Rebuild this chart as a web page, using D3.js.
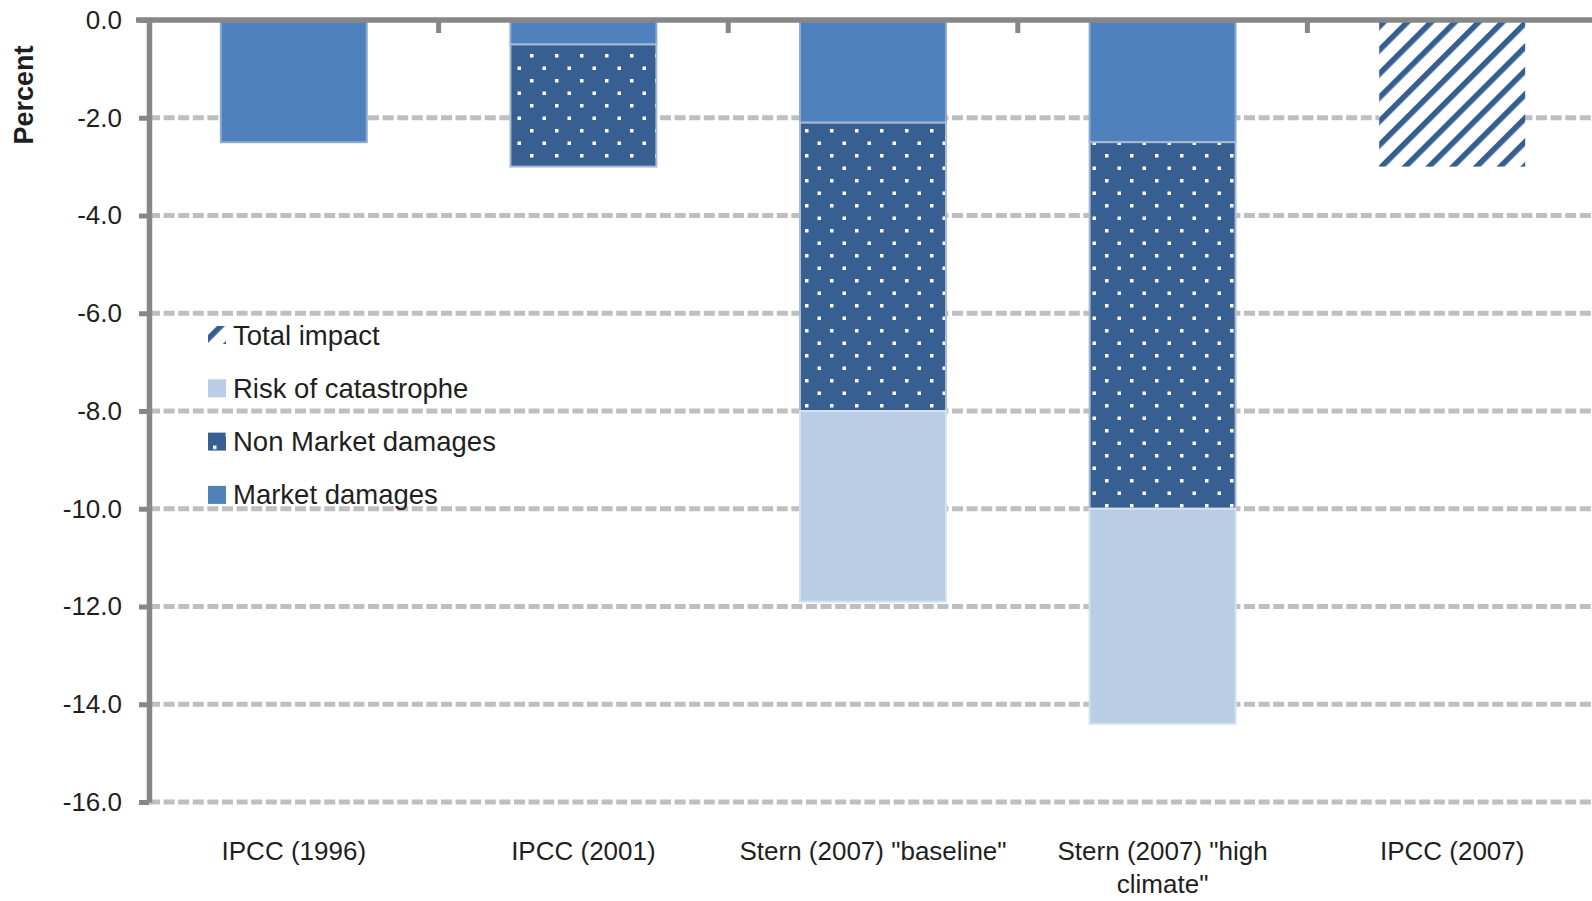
<!DOCTYPE html>
<html>
<head>
<meta charset="utf-8">
<script src="https://cdn.jsdelivr.net/npm/d3@7"></script>
<style>
  html, body { margin: 0; padding: 0; background: #fff; }
  svg { display: block; }
  text { font-family: "Liberation Sans", Arial, sans-serif; fill: #1f1f1f; }
</style>
</head>
<body>
<svg id="chart" width="1592" height="901"></svg>
<script>
// ---- data ----
const categories = ["IPCC (1996)", "IPCC (2001)", "Stern (2007) \"baseline\"", "Stern (2007) \"high climate\"", "IPCC (2007)"];
const categoryLabelLines = [["IPCC (1996)"], ["IPCC (2001)"], ["Stern (2007) \"baseline\""], ["Stern (2007) \"high", "climate\""], ["IPCC (2007)"]];
const marketDamages    = [-2.5, -0.5, -2.1, -2.5, 0];
const nonMarketDamages = [0, -2.5, -5.9, -7.5, 0];
const riskOfCatastrophe = [0, 0, -3.9, -4.4, 0];
const totalImpact      = [0, 0, 0, 0, -3.0];
const yTickValues = [0, -2, -4, -6, -8, -10, -12, -14, -16];
const seriesKeys = ["market", "nonMarket", "risk", "total"];
const seriesNames = {market: "Market damages", nonMarket: "Non Market damages", risk: "Risk of catastrophe", total: "Total impact"};
const legendOrder = ["total", "risk", "nonMarket", "market"];
const yTitle = "Percent";

// ---- build table ----
const table = categories.map((c, i) => ({
  category: c,
  market: marketDamages[i],
  nonMarket: nonMarketDamages[i],
  risk: riskOfCatastrophe[i],
  total: totalImpact[i]
}));

const svg = d3.select("#chart");
const defs = svg.append("defs");

// dotted pattern (non market)
const dots = defs.append("pattern").attr("id", "dots")
  .attr("patternUnits", "userSpaceOnUse").attr("width", 25).attr("height", 25);
dots.append("rect").attr("width", 25).attr("height", 25).attr("fill", "#375F92");
dots.append("rect").attr("x", 5).attr("y", 4).attr("width", 3.5).attr("height", 3.5).attr("fill", "#fff");
dots.append("rect").attr("x", 17.5).attr("y", 16.5).attr("width", 3.5).attr("height", 3.5).attr("fill", "#fff");

// diagonal stripes (total impact)
const stripes = defs.append("pattern").attr("id", "stripes")
  .attr("patternUnits", "userSpaceOnUse").attr("width", 16.8).attr("height", 16.8)
  .attr("patternTransform", "rotate(45)");
stripes.append("rect").attr("width", 16.8).attr("height", 16.8).attr("fill", "#fff");
stripes.append("rect").attr("x", 0).attr("width", 5.6).attr("height", 16.8).attr("fill", "#365F91");

const fills = {market: "#4F81BD", nonMarket: "url(#dots)", risk: "#B9CDE5", total: "url(#stripes)"};
const edges = {market: "#8DAAD2", nonMarket: "#A9BAD2", risk: "#D6E1EF", total: "none"};

// ---- scales ----
const plotLeft = 149, bandStep = 289.6;
const x = d3.scaleBand().domain(categories).range([plotLeft, plotLeft + bandStep * categories.length]).padding(0);
const y = d3.scaleLinear().domain([-16, 0]).range([802, 20]);
const barW = x.bandwidth() * 0.504;

// ---- gridlines ----
svg.append("g").selectAll("line").data(yTickValues.filter(d => d !== 0)).join("line")
  .attr("x1", plotLeft).attr("x2", 1592)
  .attr("y1", d => y(d)).attr("y2", d => y(d))
  .attr("stroke", "#BFBFBF").attr("stroke-width", 5).attr("stroke-dasharray", "11,3.6");

// ---- bars ----
const stacked = d3.stack().keys(seriesKeys).offset(d3.stackOffsetDiverging)(table);
svg.append("g").selectAll("g").data(stacked).join("g")
  .each(function(s) {
    d3.select(this).selectAll("rect").data(s.filter(d => d[1] - d[0] !== 0)).join("rect")
      .attr("x", d => x(d.data.category) + (x.bandwidth() - barW) / 2)
      .attr("width", barW)
      .attr("y", d => y(Math.max(d[0], d[1])))
      .attr("height", d => Math.abs(y(d[0]) - y(d[1])))
      .attr("fill", fills[s.key])
      .attr("stroke", edges[s.key])
      .attr("stroke-width", 2);
  });

// ---- y axis ----
const yAxis = d3.axisLeft(y).tickValues(yTickValues)
  .tickFormat(d => d.toFixed(1)).tickSize(10).tickSizeOuter(0).tickPadding(17);
const gy = svg.append("g").attr("transform", `translate(${plotLeft},0)`).call(yAxis);
gy.select(".domain").attr("stroke", "#878787").attr("stroke-width", 5.5);
gy.selectAll(".tick line").attr("stroke", "#878787").attr("stroke-width", 5);
gy.selectAll(".tick text").style("font-size", "26px").attr("fill", "#1f1f1f")
  .style("font-family", "'Liberation Sans', Arial, sans-serif");

// ---- top (category) axis line with ticks ----
svg.append("line").attr("x1", 136).attr("x2", 1592).attr("y1", y(0)).attr("y2", y(0))
  .attr("stroke", "#878787").attr("stroke-width", 5.5);
svg.append("g").selectAll("line").data(categories.slice(1)).join("line")
  .attr("x1", d => x(d)).attr("x2", d => x(d))
  .attr("y1", y(0)).attr("y2", y(0) + 13)
  .attr("stroke", "#878787").attr("stroke-width", 5);

// ---- category labels ----
const lab = svg.append("g").selectAll("text").data(categories).join("text")
  .attr("text-anchor", "middle")
  .style("font-size", "26px");
lab.each(function(c, i) {
  const t = d3.select(this);
  categoryLabelLines[i].forEach((line, j) => {
    t.append("tspan").attr("x", x(c) + x.bandwidth() / 2).attr("y", 860 + j * 33).text(line);
  });
});

// ---- y title ----
svg.append("text").attr("transform", "translate(33,95) rotate(-90)")
  .attr("text-anchor", "middle").style("font-size", "27px").style("font-weight", "bold")
  .attr("fill", "#111").text(yTitle);

// ---- legend ----
const lg = svg.append("g").selectAll("g").data(legendOrder).join("g")
  .attr("transform", (d, i) => `translate(208,${335 + i * 53.3})`);
lg.append("rect").attr("x", 0).attr("y", -9).attr("width", 18).attr("height", 18)
  .attr("fill", d => fills[d]);
lg.append("text").attr("x", 25).attr("y", 9.5).style("font-size", "27.5px")
  .text(d => seriesNames[d]);
</script>
</body>
</html>
